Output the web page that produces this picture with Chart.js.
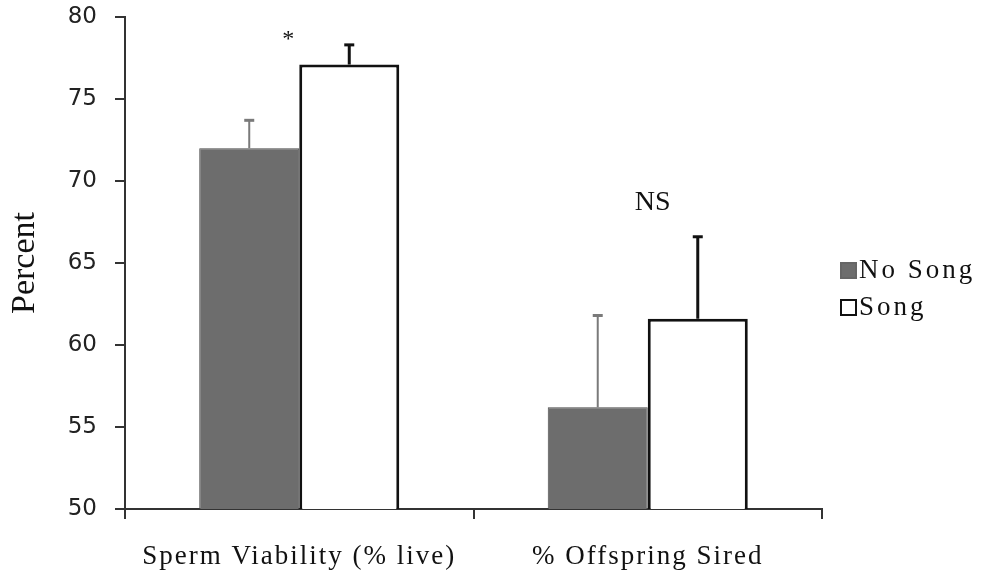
<!DOCTYPE html>
<html>
<head>
<meta charset="utf-8">
<script src="https://cdn.jsdelivr.net/npm/chart.js@4.4.0/dist/chart.umd.min.js"></script>
<style>
  html, body { margin: 0; padding: 0; background: #fff; }
  #wrap { position: relative; width: 984px; height: 575px; }
</style>
</head>
<body>
<div id="wrap"><canvas id="chart"></canvas></div>
<script>
// Data
const categories = ['Sperm Viability (% live)', '% Offspring Sired'];
const seriesNames = ['No Song', 'Song'];
const noSong = [72.0, 56.2];
const song = [77.1, 61.6];
const noSongErr = [1.7, 5.6];
const songErr = [1.2, 5.0];
const marks = ['*', 'NS'];
const markValues = [78.6, 68.7];

const AXIS = '#333333';
const SERIF = '"Liberation Serif", "DejaVu Serif", serif';

/**
 * Error bars (upper only) drawn from the bar top
 */
const errorBars = {
    id: 'errorBars',
    afterDatasetsDraw(chart) {
        const ctx = chart.ctx;
        const yScale = chart.scales.y;
        chart.data.datasets.forEach((ds, i) => {
            const meta = chart.getDatasetMeta(i);
            meta.data.forEach((bar, j) => {
                const top = yScale.getPixelForValue(ds.data[j] + ds.errors[j]);
                ctx.save();
                ctx.strokeStyle = ds.errColor;
                ctx.lineWidth = ds.errWidth;
                ctx.beginPath();
                ctx.moveTo(bar.x, bar.y);
                ctx.lineTo(bar.x, top);
                ctx.stroke();
                ctx.lineWidth = 3;
                ctx.beginPath();
                ctx.moveTo(bar.x - 5, top);
                ctx.lineTo(bar.x + 5, top);
                ctx.stroke();
                ctx.restore();
            });
        });
    }
};

/**
 * Letter-spaced category labels on the x axis
 */
const spacedLabels = {
    id: 'spacedLabels',
    beforeDraw(chart) {
        const scale = chart.scales.x;
        if (scale._spaced) return;
        const orig = scale.drawLabels;
        scale.drawLabels = function (area) {
            this.ctx.save();
            this.ctx.letterSpacing = '2px';
            orig.call(this, area);
            this.ctx.restore();
        };
        scale._spaced = true;
    }
};

/**
 * Significance marks and legend
 */
const extras = {
    id: 'extras',
    afterDraw(chart) {
        const ctx = chart.ctx;
        const xScale = chart.scales.x;
        const yScale = chart.scales.y;

        // significance marks
        const shifts = [-11, 5];
        const sizes = [24, 28];
        ctx.save();
        ctx.fillStyle = '#111';
        ctx.textAlign = 'center';
        ctx.textBaseline = 'middle';
        marks.forEach((m, i) => {
            ctx.font = sizes[i] + 'px ' + SERIF;
            const x = xScale.getPixelForValue(i) + shifts[i];
            const y = yScale.getPixelForValue(markValues[i]);
            ctx.fillText(m, x, y);
        });
        ctx.restore();

        // legend
        ctx.save();
        ctx.font = '27px ' + SERIF;
        ctx.letterSpacing = '3px';
        ctx.textBaseline = 'middle';
        ctx.textAlign = 'left';
        chart.data.datasets.forEach((ds, i) => {
            const cy = 270 + i * 37;
            ctx.fillStyle = ds.backgroundColor;
            ctx.fillRect(841, cy - 7, 15, 15);
            ctx.strokeStyle = ds.legendStroke;
            ctx.lineWidth = 2;
            ctx.strokeRect(841, cy - 7, 15, 15);
            ctx.fillStyle = '#111';
            ctx.fillText(ds.label, 859, cy + 1);
        });
        ctx.restore();
    }
};

document.addEventListener('DOMContentLoaded', function () {
    const ctx = document.getElementById('chart').getContext('2d');
    new Chart(ctx, {
        type: 'bar',
        data: {
            labels: categories,
            datasets: [
                {
                    label: seriesNames[0],
                    data: noSong,
                    errors: noSongErr,
                    errColor: '#7a7a7a',
                    errWidth: 2,
                    legendStroke: '#666',
                    backgroundColor: '#6d6d6d',
                    borderColor: '#4a4a4a',
                    borderWidth: 1,
                    barPercentage: 1.0,
                    categoryPercentage: 0.574
                },
                {
                    label: seriesNames[1],
                    data: song,
                    errors: songErr,
                    errColor: '#111',
                    errWidth: 3,
                    legendStroke: '#111',
                    backgroundColor: '#ffffff',
                    borderColor: '#111111',
                    borderWidth: 3,
                    barPercentage: 1.0,
                    categoryPercentage: 0.574
                }
            ]
        },
        options: {
            responsive: true,
            maintainAspectRatio: false,
            animation: false,
            layout: {
                padding: { left: 0, top: 17, right: 162, bottom: 0 }
            },
            plugins: {
                legend: { display: false },
                tooltip: { enabled: false }
            },
            scales: {
                x: {
                    grid: {
                        drawOnChartArea: false,
                        offset: true,
                        tickLength: 10,
                        tickColor: AXIS,
                        lineWidth: 2
                    },
                    border: { color: AXIS, width: 2 },
                    ticks: {
                        color: '#111',
                        padding: 22,
                        font: { family: SERIF, size: 27 }
                    },
                    afterFit(scale) {
                        scale.height = 66;
                        scale.paddingLeft = 0;
                        scale.paddingRight = 0;
                    }
                },
                y: {
                    min: 50,
                    max: 80,
                    ticks: {
                        stepSize: 5,
                        color: '#222',
                        padding: 18,
                        font: { family: '"DejaVu Sans", sans-serif', size: 23 }
                    },
                    grid: {
                        drawOnChartArea: false,
                        tickLength: 10,
                        tickColor: AXIS,
                        lineWidth: 2
                    },
                    border: { color: AXIS, width: 2 },
                    title: {
                        display: true,
                        text: 'Percent',
                        color: '#111',
                        padding: { top: 5, bottom: 0 },
                        font: { family: SERIF, size: 34 }
                    },
                    afterFit(scale) {
                        scale.width = 125;
                        scale.paddingTop = 0;
                        scale.paddingBottom = 0;
                    }
                }
            }
        },
        plugins: [errorBars, spacedLabels, extras]
    });
});
</script>
</body>
</html>
